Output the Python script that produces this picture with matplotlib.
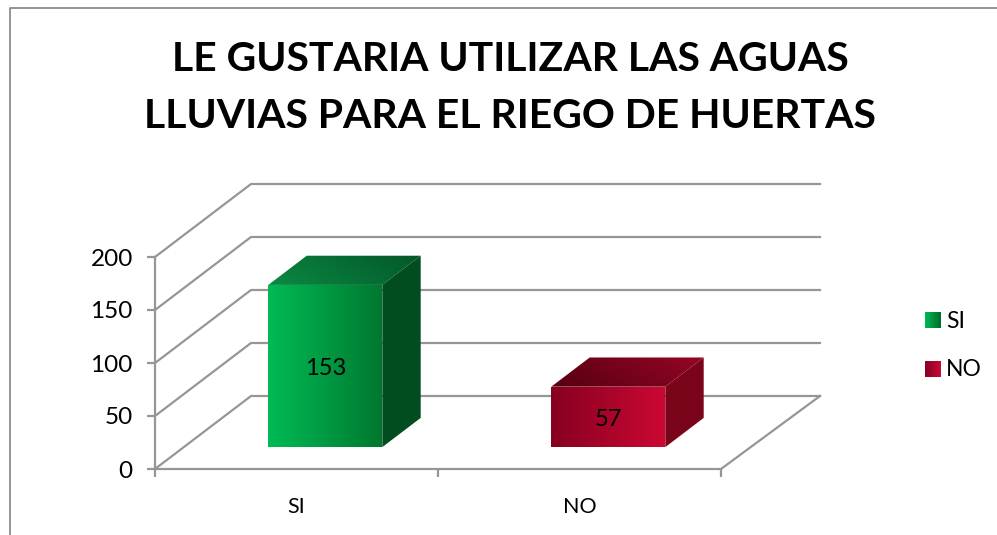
import matplotlib
matplotlib.use("Agg")
import matplotlib.pyplot as plt
from matplotlib.colors import LinearSegmentedColormap
from matplotlib.patches import Polygon
import numpy as np

categories = ["SI", "NO"]
values = [153, 57]
y_ticks = [0, 50, 100, 150, 200]
title = "LE GUSTARIA UTILIZAR LAS AGUAS\nLLUVIAS PARA EL RIEGO DE HUERTAS"

front_colors = [("#00bb55", "#00782f"), ("#860020", "#cc0833")]
top_colors = [("#0a8a42", "#03562a"), ("#560010", "#960526")]
side_colors = ["#014d20", "#7a0419"]
legend_colors = [("#00bb55", "#006a2c"), ("#860020", "#cc0833")]

grid_col = "#969696"
W, H = 997, 535

plt.rcParams["font.family"] = ["Lato", "DejaVu Sans"]

fig = plt.figure(figsize=(W / 100, H / 100), dpi=100)
ax = fig.add_axes([155 / W, (H - 469) / H, 566 / W, 212 / H])
ax.patch.set_visible(False)

# Tiefe der 3D-Wand in Datenkoordinaten
dx = 96 / 283
dy = 73 / 1.06


def proj(x, y, d):
    return (x + d * dx, y + d * dy)


def gradient(poly_pts, c1, c2, diagonal=False):
    # Polygon mit Farbverlauf fuellen
    cmap = LinearSegmentedColormap.from_list("g", [c1, c2])
    pts = np.array(poly_pts)
    poly = Polygon(pts, closed=True, transform=ax.transData, fc="none", ec="none")
    ax.add_patch(poly)
    grad = np.linspace(0, 1, 256).reshape(1, -1)
    if diagonal:
        grad = np.add.outer(np.linspace(0, 0.25, 64), np.linspace(0, 0.75, 256))
    im = ax.imshow(grad, cmap=cmap, vmin=0, vmax=1, aspect="auto", origin="lower", zorder=3,
                   extent=[pts[:, 0].min(), pts[:, 0].max(), pts[:, 1].min(), pts[:, 1].max()])
    im.set_clip_box(fig.bbox)
    im.set_clip_path(poly)


# Gitterlinien an Wand und Boden
right = 2 + 3 / 283
for t in y_ticks:
    x0, y0 = proj(0, t, 0)
    x1, y1 = proj(0, t, 1)
    ax.plot([x0, x1, right + dx], [y0, y1, y1], color=grid_col, lw=1.6, clip_on=False, zorder=1)
x1, y1 = proj(2, 0, 1)
ax.plot([2, right + dx], [0, y1], color=grid_col, lw=1.6, clip_on=False, zorder=1)

# Balken
bar_w = 114 / 283
for i, v in enumerate(values):
    xl = i + 0.5 - bar_w / 2
    xr = xl + bar_w
    f = lambda x, y, d: proj(x, y, 0.3 + 0.4 * d)
    gradient([f(xl, 0, 0), f(xr, 0, 0), f(xr, v, 0), f(xl, v, 0)], *front_colors[i])
    gradient([f(xl, v, 0), f(xr, v, 0), f(xr, v, 1), f(xl, v, 1)], *top_colors[i], diagonal=True)
    ax.add_patch(Polygon([f(xr, 0, 0), f(xr, 0, 1), f(xr, v, 1), f(xr, v, 0)], closed=True,
                         fc=side_colors[i], ec="none", clip_on=False, zorder=3))
    lx, ly = f((xl + xr) / 2, v / 2, 0)
    ax.annotate(str(v), (lx, ly), xytext=(0, -2), textcoords="offset points", ha="center", va="center",
                fontsize=17, color="black", zorder=5, annotation_clip=False)

ax.set_xlim(0, 2)
ax.set_ylim(0, 200)
ax.set_yticks(y_ticks)
ax.set_xticks([0, 1, 2])
ax.set_xticklabels([])
ax.set_xticks([0.5, 1.5], minor=True)
ax.set_xticklabels(categories, minor=True, fontsize=15.5)
ax.tick_params(axis="x", which="minor", length=0, pad=20)
ax.tick_params(axis="x", which="major", length=6, width=1.6, color=grid_col)
ax.tick_params(axis="y", length=6, width=1.6, color=grid_col, labelsize=17.5, pad=10)
for s in ["top", "right"]:
    ax.spines[s].set_visible(False)
for s in ["left", "bottom"]:
    ax.spines[s].set_color(grid_col)
    ax.spines[s].set_linewidth(1.6)

fig.text(510 / W, 1 - 88 / H, title, ha="center", va="center", fontsize=29.4, fontweight="bold",
         linespacing=1.65, color="black")

# Legende
for i, name in enumerate(categories):
    top_px = 312 + 49 * i
    lax = fig.add_axes([925 / W, 1 - (top_px + 16) / H, 16 / W, 16 / H])
    cm = LinearSegmentedColormap.from_list("l", legend_colors[i])
    lax.imshow(np.linspace(0, 1, 64).reshape(1, -1), cmap=cm, aspect="auto")
    lax.axis("off")
    fig.text(946 / W, 1 - (top_px + 9) / H, name, ha="left", va="center", fontsize=16.5)

# Rahmen oben und links
fig.add_artist(plt.Line2D([10 / W, 10 / W, 1], [0, 1 - 7.5 / H, 1 - 7.5 / H], color="#8c8c8c", lw=1.3))

fig.savefig("out.png", dpi=100)
